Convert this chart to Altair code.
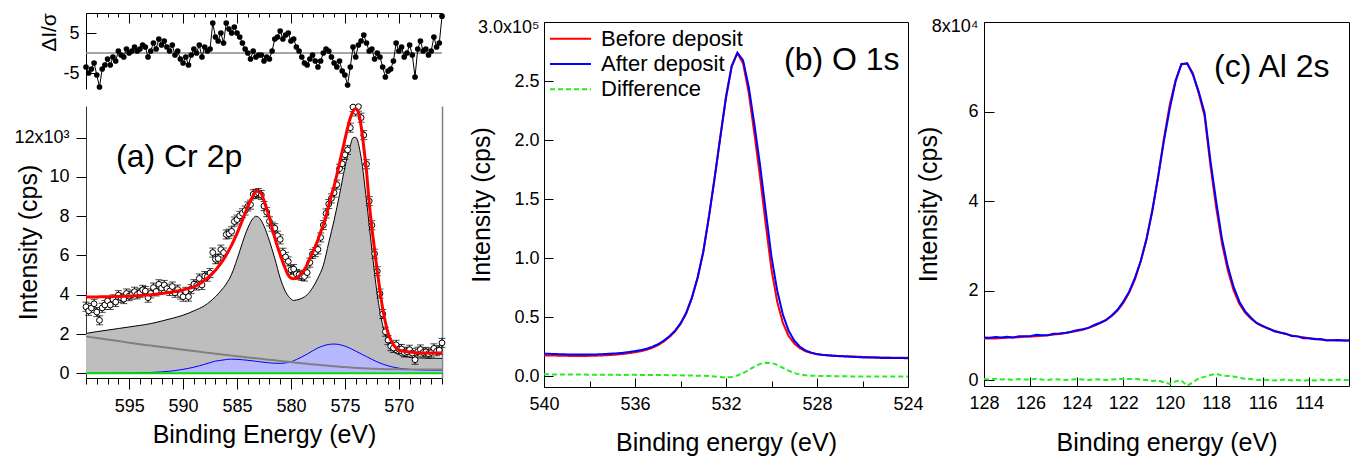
import altair as alt
import pandas as pd

FONT = "Liberation Sans"

# ---------------- Cr 2p: measured points, fit and normalised residual ----------------
CR_START, CR_STEP = 599.0, 0.25
cr_counts = [
    3390, 3180, 3325, 3540, 3120, 2700, 3335, 3480, 3690, 3480,
    3765, 3630, 3980, 3845, 3780, 4065, 3930, 4005, 4155, 4020,
    4100, 4250, 4190, 3850, 4070, 4365, 4170, 4535, 4340, 4500,
    4310, 4190, 4420, 4100, 4265, 4010, 3900, 4150, 3905, 4290,
    4540, 4470, 4830, 4500, 4950, 4920, 5110, 6150, 5810, 5840,
    6300, 6150, 7070, 7110, 7230, 7730, 7830, 8020, 8150, 8290,
    8500, 8590, 9120, 9140, 9180, 9080, 8520, 8210, 7740, 7470,
    7390, 7010, 6820, 6140, 5930, 5700, 5270, 5310, 5060, 5020,
    4960, 4930, 5130, 5640, 6080, 6170, 6310, 6920, 7550, 8140,
    8620, 8910, 9200, 9610, 10420, 10670, 11130, 11380, 12510, 13560,
    13340, 13580, 13020, 12130, 10650, 8770, 7540, 6090, 5200, 4060,
    3020, 2120, 1690, 1380, 1290, 1450, 1230, 1240, 1060, 1100,
    1200, 1030, 690, 1100, 1215, 1060, 1090, 1000, 1060, 1270,
    1120, 1180, 1550,
]
cr_fit = [
    3880, 3882, 3885, 3888, 3890, 3893, 3896, 3898, 3900, 3903,
    3905, 3908, 3910, 3915, 3920, 3925, 3930, 3937, 3945, 3952,
    3960, 3970, 3980, 3990, 4000, 4015, 4030, 4045, 4060, 4080,
    4100, 4120, 4140, 4167, 4195, 4222, 4250, 4290, 4325, 4360,
    4400, 4470, 4550, 4640, 4740, 4850, 4970, 5100, 5250, 5420,
    5600, 5800, 6020, 6270, 6530, 6820, 7130, 7460, 7800, 8150,
    8500, 8800, 9050, 9280, 9250, 9150, 8800, 8350, 7950, 7400,
    6900, 6450, 6050, 5650, 5300, 5000, 4850, 4820, 4850, 4950,
    5100, 5280, 5550, 5850, 6150, 6450, 6800, 7200, 7550, 8000,
    8550, 9050, 9550, 10100, 10700, 11300, 11900, 12500, 13000, 13350,
    13480, 13300, 12600, 11500, 10300, 8700, 7400, 6300, 5200, 4200,
    3300, 2600, 2050, 1700, 1450, 1300, 1200, 1150, 1120, 1100,
    1080, 1065, 1050, 1040, 1035, 1032, 1030, 1030, 1030, 1030,
    1030, 1030, 1030,
]
cr_resid = [
    -3.5, -5.0, -4.0, -2.5, -5.5, -8.5, -4.0, -3.0, -1.5, -3.0,
    -1.0, -2.0, 0.5, -0.5, -1.0, 1.0, 0.0, 0.5, 1.5, 0.5,
    1.0, 2.0, 1.5, -1.0, 0.5, 2.5, 1.0, 3.5, 2.0, 3.0,
    1.5, 0.5, 2.0, -0.5, 0.5, -1.5, -2.5, -1.0, -3.0, -0.5,
    1.0, 0.0, 2.0, -1.0, 1.5, 0.5, 1.0, 7.5, 4.0, 3.0,
    5.0, 2.5, 7.5, 6.0, 5.0, 6.5, 5.0, 4.0, 2.5, 1.0,
    0.0, -1.5, 0.5, -1.0, -0.5, -0.5, -2.0, -1.0, -1.5, 0.5,
    3.5, 4.0, 5.5, 3.5, 4.5, 5.0, 3.0, 3.5, 1.5, 0.5,
    -1.0, -2.5, -3.0, -1.5, -0.5, -2.0, -3.5, -2.0, 0.0, 1.0,
    0.5, -1.0, -2.5, -3.5, -2.0, -4.5, -5.5, -8.0, -3.5, 1.5,
    -1.0, 2.0, 3.0, 4.5, 2.5, 0.5, 1.0, -1.5, 0.0, -1.0,
    -3.5, -6.0, -4.5, -4.0, -2.0, 2.5, 0.5, 1.5, -1.0, 0.0,
    2.0, -0.5, -6.0, 1.0, 3.0, 0.5, 1.0, -0.5, 0.5, 4.0,
    1.5, 2.5, 9.2,
]
CR_ERR = 230  # error-bar half length (cps)

# Cr 2p peak decomposition
comp_energy = [
    599, 598, 597, 596, 595, 594, 593, 592, 591, 590, 589, 588,
    587.5, 587, 586.5, 586, 585.5, 585, 584.5, 584, 583.5, 583.25, 583,
    582.5, 582, 581.5, 581, 580.5, 580, 579.75, 579.5, 579,
    578.5, 578, 577.5, 577, 576.5, 576, 575.5, 575, 574.5, 574.25, 574,
    573.5, 573, 572.5, 572, 571.5, 571, 570.5, 570,
    569, 568, 567, 566,
]
comp_envelope = [
    2030, 2120, 2200, 2280, 2360, 2440, 2530, 2660, 2800, 2960, 3180, 3450,
    3650, 3900, 4200, 4550, 5050, 5800, 6650, 7400, 7900, 8000, 7950,
    7500, 6750, 5850, 4850, 4150, 3790, 3710, 3730, 3820,
    4000, 4350, 4850, 5500, 6650, 7800, 9100, 10500, 11600, 12000, 12020,
    11000, 8800, 6300, 4000, 2450, 1600, 1150, 950,
    820, 780, 770, 760,
]
comp_background = [
    1880, 1800, 1720, 1640, 1560, 1480, 1410, 1340, 1270, 1200, 1130, 1060,
    1030, 1000, 965, 935, 900, 870, 840, 810, 780, 765, 750,
    720, 690, 660, 630, 600, 570, 555, 540, 510,
    480, 455, 430, 405, 380, 355, 335, 315, 295, 285, 275,
    260, 245, 235, 225, 215, 210, 205, 200,
    195, 190, 190, 190,
]
comp_satellite = [
    0, 0, 5, 10, 15, 25, 40, 70, 120, 200, 310, 460,
    540, 620, 660, 700, 720, 710, 690, 660, 630, 610, 595,
    560, 530, 510, 505, 530, 590, 640, 700, 830,
    980, 1140, 1290, 1400, 1470, 1490, 1460, 1380, 1270, 1200, 1130,
    990, 850, 710, 580, 470, 380, 310, 260,
    200, 170, 160, 160,
]

# ---------------- O 1s (0.25 eV steps from 540 eV) ----------------
O_START, O_STEP = 540.0, 0.25
o_before = [
    17500, 17400, 17300, 17200, 17100, 17000, 17000, 17000, 17100, 17200,
    17400, 17600, 17900, 18300, 18800, 19400, 20100, 21000, 22200, 23800,
    26000, 29000, 32800, 37500, 44000, 53000, 66000, 83000, 105000, 135000,
    168000, 203000, 237000, 263000, 273500, 265000, 240000, 205000, 168000, 128000,
    90000, 63000, 45000, 34000, 27500, 23500, 21000, 19500, 18500, 17900,
    17500, 17200, 17000, 16800, 16600, 16400, 16200, 16000, 15900, 15800,
    15700, 15600, 15500, 15500, 15400,
]
o_after = [
    19000, 18800, 18600, 18500, 18300, 18300, 18300, 18200, 18200, 18300,
    18400, 18700, 19000, 19300, 19700, 20400, 21100, 21900, 23000, 24700,
    26900, 29800, 33500, 38200, 44600, 53500, 66400, 83300, 105200, 135000,
    167700, 202200, 235700, 262200, 274000, 267500, 245000, 213000, 178300, 139300,
    101000, 72500, 52000, 38500, 30000, 24800, 21600, 19800, 18600, 17900,
    17500, 17100, 16800, 16600, 16300, 16100, 15800, 15700, 15600, 15400,
    15300, 15300, 15200, 15200, 15100,
]
o_diff = [
    1500, 1400, 1300, 1300, 1200, 1300, 1300, 1200, 1100, 1100,
    1000, 1100, 1100, 1000, 900, 1000, 1000, 900, 800, 900,
    900, 800, 700, 700, 600, 500, 400, 300, 200, 0,
    -300, -800, -1300, -800, 500, 2500, 5000, 8000, 10300, 11300,
    11000, 9500, 7000, 4500, 2500, 1300, 600, 300, 100, 0,
    0, -100, -200, -200, -300, -300, -400, -300, -300, -400,
    -400, -300, -300, -300, -300,
]

# ---------------- Al 2s (0.25 eV steps from 128 eV) ----------------
AL_START, AL_STEP = 128.0, 0.25
al_before = [
    9300, 9350, 9300, 9400, 9450, 9500, 9550, 9650, 9700, 9800,
    9900, 10000, 10150, 10300, 10500, 10700, 10950, 11250, 11650, 12100,
    12700, 13400, 14300, 15500, 17200, 19500, 22500, 26500, 31500, 38000,
    45500, 54000, 61500, 67000, 70500, 70800, 68500, 64000, 59000, 48000,
    38500, 30500, 24500, 20000, 17000, 15000, 13700, 12700, 12000, 11500,
    11000, 10600, 10250, 9950, 9750, 9550, 9350, 9200, 9050, 8950,
    8900, 8850, 8850, 8850,
]
al_after = [
    9500, 9450, 9600, 9500, 9650, 9500, 9750, 9750, 9800, 10100,
    10000, 10000, 10350, 10400, 10500, 10800, 11150, 11350, 11650, 12300,
    12800, 13400, 14400, 15700, 17500, 19700, 22800, 26600, 31500, 37800,
    45400, 53500, 60600, 66700, 70600, 70700, 68200, 64400, 59700, 49100,
    39900, 31500, 25400, 20800, 17500, 15300, 13900, 12700, 12100, 11500,
    10900, 10600, 10350, 9850, 9750, 9350, 9350, 9100, 9150, 8850,
    8900, 8950, 8850, 8850,
]
al_diff = [
    200, 100, 300, 100, 200, 0, 200, 100, 100, 300,
    100, 0, 200, 100, 0, 100, 200, 100, 0, 200,
    100, 0, 100, 200, 300, 200, 300, 100, 0, -200,
    -100, -500, -900, -300, -100, -1300, -500, 400, 700, 1100,
    1400, 1000, 900, 800, 500, 300, 200, 0, 100, 0,
    -100, 0, 100, -100, 0, -200, 0, -100, 100, -100,
    0, 100, 0, 0,
]

SERIES = ["Before deposit", "After deposit", "Difference"]
RED, BLUE, GREEN = "#ff0000", "#0000ff", "#22ee22"
TITLE_FS = 25

# ---------------- tables ----------------
cr_df = pd.DataFrame({
    "energy": [CR_START - CR_STEP * i for i in range(len(cr_counts))],
    "counts": cr_counts, "fit": cr_fit, "resid": cr_resid,
})
comp_df = pd.DataFrame({
    "energy": comp_energy, "envelope": comp_envelope,
    "background": comp_background, "satellite": comp_satellite,
})
o_energy = [O_START - O_STEP * i for i in range(len(o_before))]
o_df = pd.DataFrame({
    "energy": o_energy * 3,
    "cps": o_before + o_after + o_diff,
    "series": [SERIES[0]] * len(o_before) + [SERIES[1]] * len(o_after) + [SERIES[2]] * len(o_diff),
})
al_df = pd.DataFrame({
    "energy": [AL_START - AL_STEP * i for i in range(len(al_before))],
    "before": al_before, "after": al_after, "diff": al_diff,
})
key_df = pd.DataFrame({"series": SERIES, "row": [0, 1, 2]})


def carrier(xscale, yscale, xaxis, yaxis, xv, yv):
    """Invisible layer whose only job is to carry axes."""
    df = pd.DataFrame({"ax": [xv], "ay": [yv]})
    return alt.Chart(df).mark_point(opacity=0).encode(
        x=alt.X("ax:Q", scale=xscale, axis=xaxis),
        y=alt.Y("ay:Q", scale=yscale, axis=yaxis),
    )


def label(text, x, y, size=32):
    return alt.Chart(pd.DataFrame({"t": [text]})).mark_text(
        font=FONT, fontSize=size, align="left", baseline="alphabetic", color="black"
    ).encode(x=alt.value(x), y=alt.value(y), text="t:N")


# ======================= panel (a): residual strip above the Cr 2p spectrum =======================
A_W, A_H = 356, 365          # whole panel (strip + spectrum)
RES_BOTTOM, MAIN_TOP = 76, 93
x_cr = alt.Scale(domain=[566, 599], reverse=True, nice=False, zero=False)
y_res = alt.Scale(domain=[-9, 10], range=[RES_BOTTOM, 0], nice=False, zero=False)
y_cr = alt.Scale(domain=[-240, 13615], range=[A_H, MAIN_TOP], nice=False, zero=False, clamp=True)
cr_minor = list(range(566, 600))
cr_major = [595, 590, 585, 580, 575, 570]
XC = alt.X("energy:Q", scale=x_cr, axis=None)

# residual strip
res_zero = alt.Chart(pd.DataFrame({"z": [0]})).mark_rule(color="#888888", strokeWidth=1.5).encode(
    y=alt.Y("z:Q", scale=y_res, axis=None))
res_line = alt.Chart(cr_df).mark_line(color="black", strokeWidth=1).encode(
    x=XC, y=alt.Y("resid:Q", scale=y_res, axis=None))
res_pts = alt.Chart(cr_df).mark_circle(color="black", size=32, opacity=1).encode(
    x=XC, y=alt.Y("resid:Q", scale=y_res, axis=None))
res_axes = carrier(
    x_cr, y_res,
    alt.Axis(orient="bottom", offset=-A_H, values=cr_minor, tickSize=4, labels=False,
             title=None, domainColor="black"),
    alt.Axis(orient="left", values=[5, -5], ticks=False, tickSize=0, labelPadding=7,
             labelExpr="datum.value < 0 ? '-' + abs(datum.value) : '' + datum.value",
             title="ΔI/σ", titleX=-31, titleY=19, titleAngle=270, titleAlign="center",
             titleFontSize=21, titleBaseline="alphabetic", domainColor="black"),
    580, 0)
res_ticks = carrier(
    x_cr, y_res,
    alt.Axis(orient="bottom", offset=-A_H, values=cr_major, tickSize=10, labels=False,
             domain=False, title=None),
    alt.Axis(orient="right", offset=-A_W, values=[5, -5], tickSize=10, labels=False,
             domain=False, title=None),
    580, 0)

# spectrum
env_area = alt.Chart(comp_df).mark_area(color="#bebebe", interpolate="monotone").encode(
    x=XC, y=alt.Y("envelope:Q", scale=y_cr, axis=None), y2=alt.Y2Datum(0))
env_line = alt.Chart(comp_df).mark_line(color="black", strokeWidth=1, interpolate="monotone").encode(
    x=XC, y=alt.Y("envelope:Q", scale=y_cr, axis=None))
sat_area = alt.Chart(comp_df).mark_area(color="#b8b8ff", interpolate="monotone").encode(
    x=XC, y=alt.Y("satellite:Q", scale=y_cr, axis=None), y2=alt.Y2Datum(0))
sat_line = alt.Chart(comp_df).mark_line(color="#0000ff", strokeWidth=1, interpolate="monotone").encode(
    x=XC, y=alt.Y("satellite:Q", scale=y_cr, axis=None))
bg_line = alt.Chart(comp_df).mark_line(color="#808080", strokeWidth=2, interpolate="monotone").encode(
    x=XC, y=alt.Y("background:Q", scale=y_cr, axis=None))
zero_line = alt.Chart(pd.DataFrame({"z": [0]})).mark_rule(color="#00dd00", strokeWidth=2).encode(
    y=alt.Y("z:Q", scale=y_cr, axis=None))

err_base = alt.Chart(cr_df).transform_calculate(
    lo=f"datum.counts - {CR_ERR}", hi=f"datum.counts + {CR_ERR}")
err_rule = err_base.mark_rule(color="black", strokeWidth=1).encode(
    x=XC, y=alt.Y("lo:Q", scale=y_cr, axis=None), y2="hi:Q")
err_lo = err_base.mark_tick(color="black", orient="horizontal", size=7, thickness=1).encode(
    x=XC, y=alt.Y("lo:Q", scale=y_cr, axis=None))
err_hi = err_base.mark_tick(color="black", orient="horizontal", size=7, thickness=1).encode(
    x=XC, y=alt.Y("hi:Q", scale=y_cr, axis=None))
pts = alt.Chart(cr_df).mark_point(shape="circle", filled=True, fill="white", stroke="black",
                                  strokeWidth=1, size=34, opacity=1).encode(
    x=XC, y=alt.Y("counts:Q", scale=y_cr, axis=None))
fit_line = alt.Chart(cr_df).mark_line(color="#ff0000", strokeWidth=3, interpolate="monotone").encode(
    x=XC, y=alt.Y("fit:Q", scale=y_cr, axis=None))

cr_axes = carrier(
    x_cr, y_cr,
    alt.Axis(orient="bottom", values=cr_major, tickSize=11, labelPadding=8, labelFlush=False,
             title="Binding Energy (eV)", titleY=64, titleBaseline="alphabetic", domainColor="black"),
    alt.Axis(orient="left", values=list(range(0, 13000, 2000)), tickSize=10, labelPadding=7,
             labelExpr="datum.value == 12000 ? '12x10³' : format(datum.value / 1000, 'd')",
             title="Intensity (cps)", titleX=-50, titleAngle=270, titleAlign="center",
             titleBaseline="alphabetic", domainColor="#333333"),
    580, 0)
cr_minor_axes = carrier(
    x_cr, y_cr,
    alt.Axis(orient="bottom", values=cr_minor, tickSize=6, labels=False, domain=False, title=None),
    alt.Axis(orient="right", ticks=False, labels=False, domainColor="#808080", domainWidth=1.5, title=None),
    580, 0)

panel_a = alt.layer(
    res_zero, res_line, res_pts, res_axes, res_ticks,
    env_area, env_line, sat_area, sat_line, bg_line, zero_line,
    err_rule, err_lo, err_hi, pts, fit_line,
    label("(a) Cr 2p", 30, 154), cr_axes, cr_minor_axes,
).resolve_scale(y="independent").resolve_axis(x="independent", y="independent").properties(
    width=A_W, height=A_H)

# ======================= panel (b): O 1s =======================
B_W, B_H = 390, 374
B_L, B_T = 26, 9           # plot frame starts this far inside the view
x_o = alt.Scale(domain=[524, 540], range=[B_L, B_W], reverse=True, nice=False, zero=False)
y_o = alt.Scale(domain=[-9300, 300000], range=[B_H, B_T], nice=False, zero=False)
color_o = alt.Scale(domain=SERIES, range=[RED, BLUE, GREEN])
dash_o = alt.Scale(domain=SERIES, range=[[1, 0], [1, 0], [5, 3]])

o_lines = alt.Chart(o_df).mark_line(strokeWidth=2, clip=True).encode(
    x=alt.X("energy:Q", scale=x_o, axis=None),
    y=alt.Y("cps:Q", scale=y_o, axis=None),
    color=alt.Color("series:N", scale=color_o, legend=None),
    strokeDash=alt.StrokeDash("series:N", scale=dash_o, legend=None),
)
# key in the upper-left corner of the frame
key_y = alt.Y("row:Q", scale=alt.Scale(domain=[0, 2], range=[25.7, 76.3]), axis=None)
key_lines = alt.Chart(key_df).mark_rule(strokeWidth=2).encode(
    x=alt.value(32), x2=alt.value(73), y=key_y,
    color=alt.Color("series:N", scale=color_o, legend=None),
    strokeDash=alt.StrokeDash("series:N", scale=dash_o, legend=None),
)
key_text = alt.Chart(key_df).mark_text(font=FONT, fontSize=22, align="left", baseline="middle",
                                       color="black").encode(
    x=alt.value(83), y=key_y, text="series:N")

o_yvals = list(range(0, 300001, 50000))
o_xvals = [540, 536, 532, 528, 524]
o_axes = carrier(
    x_o, y_o,
    alt.Axis(orient="bottom", values=o_xvals, ticks=False, tickSize=0, labelPadding=8,
             labelFlush=False, title="Binding energy (eV)", titleY=63, titleBaseline="alphabetic",
             domainColor="black"),
    alt.Axis(orient="left", offset=-B_L, values=o_yvals, ticks=False, tickSize=0, labelPadding=5,
             labelFlush=True, labelFlushOffset=4,
             labelExpr="datum.value == 300000 ? '3.0x10⁵' : format(datum.value / 100000, '.1f')",
             title="Intensity (cps)", titleX=-55, titleAngle=270, titleAlign="center",
             titleBaseline="alphabetic", domainColor="black"),
    532, 0)
o_frame = carrier(
    x_o, y_o,
    alt.Axis(orient="top", offset=-B_T, ticks=False, labels=False, domainColor="black", title=None),
    alt.Axis(orient="right", ticks=False, labels=False, domainColor="black", title=None),
    532, 0)
o_major = carrier(
    x_o, y_o,
    alt.Axis(orient="top", offset=-B_H, values=o_xvals, tickSize=9, labels=False, domain=False, title=None),
    alt.Axis(orient="right", offset=-(B_W - B_L), values=o_yvals, tickSize=9, labels=False,
             domain=False, title=None),
    532, 0)
o_minor = carrier(
    x_o, y_o,
    alt.Axis(orient="top", offset=-B_H, values=[538, 534, 530, 526], tickSize=6, labels=False,
             domain=False, title=None),
    None,
    532, 0)
panel_b = alt.layer(
    o_lines, key_lines, key_text, label("(b) O 1s", 266, 57), o_axes, o_frame, o_major, o_minor
).resolve_scale(y="independent").resolve_axis(x="independent", y="independent").properties(
    width=B_W, height=B_H)

# ======================= panel (c): Al 2s =======================
C_W, C_H = 365, 373
C_T = 9
x_al = alt.Scale(domain=[112.28, 128], reverse=True, nice=False, zero=False)
y_al = alt.Scale(domain=[-1340, 80000], range=[C_H, C_T], nice=False, zero=False)
XA = alt.X("energy:Q", scale=x_al, axis=None)
al_red = alt.Chart(al_df).mark_line(color=RED, strokeWidth=2, clip=True).encode(
    x=XA, y=alt.Y("before:Q", scale=y_al, axis=None))
al_blue = alt.Chart(al_df).mark_line(color=BLUE, strokeWidth=2, clip=True).encode(
    x=XA, y=alt.Y("after:Q", scale=y_al, axis=None))
al_green = alt.Chart(al_df).mark_line(color=GREEN, strokeWidth=2, strokeDash=[5, 3], clip=True).encode(
    x=XA, y=alt.Y("diff:Q", scale=y_al, axis=None))
al_xvals = [128, 126, 124, 122, 120, 118, 116, 114]
al_yvals = [0, 20000, 40000, 60000, 80000]
al_axes = carrier(
    x_al, y_al,
    alt.Axis(orient="bottom", values=al_xvals, ticks=False, tickSize=0, labelPadding=8, labelFlush=False,
             title="Binding energy (eV)", titleY=64, titleBaseline="alphabetic", domainColor="black"),
    alt.Axis(orient="left", values=al_yvals, ticks=False, tickSize=0, labelPadding=6,
             labelFlush=True, labelFlushOffset=5,
             labelExpr="datum.value == 80000 ? '8x10⁴' : format(datum.value / 10000, 'd')",
             title="Intensity (cps)", titleX=-48, titleAngle=270, titleAlign="center",
             titleBaseline="alphabetic", domainColor="black"),
    120, 0)
al_frame = carrier(
    x_al, y_al,
    alt.Axis(orient="top", offset=-C_T, ticks=False, labels=False, domainColor="black", title=None),
    alt.Axis(orient="right", ticks=False, labels=False, domainColor="black", title=None),
    120, 0)
al_major = carrier(
    x_al, y_al,
    alt.Axis(orient="top", offset=-C_H, values=al_xvals, tickSize=9, labels=False, domain=False, title=None),
    alt.Axis(orient="right", offset=-C_W, values=al_yvals, tickSize=10, labels=False, domain=False,
             title=None),
    120, 0)
panel_c = alt.layer(al_red, al_blue, al_green, label("(c) Al 2s", 230, 64), al_axes, al_frame,
                    al_major).resolve_axis(x="independent", y="independent").properties(
    width=C_W, height=C_H)

chart = alt.hconcat(panel_a, panel_b, panel_c, spacing=76, bounds="flush").resolve_scale(
    color="independent", strokeDash="independent"
).properties(
    padding={"left": 13, "top": 12, "right": 2, "bottom": 2}
).configure(
    font=FONT, background="white"
).configure_view(
    stroke=None
).configure_axis(
    grid=False, labelFont=FONT, titleFont=FONT, labelFontSize=18, titleFontSize=TITLE_FS,
    labelColor="black", titleColor="black", titleFontWeight="normal",
    tickColor="black", tickWidth=1, domainWidth=1, labelOverlap=False,
)

chart.save("out.html", embed_options={"renderer": "svg", "actions": False})
